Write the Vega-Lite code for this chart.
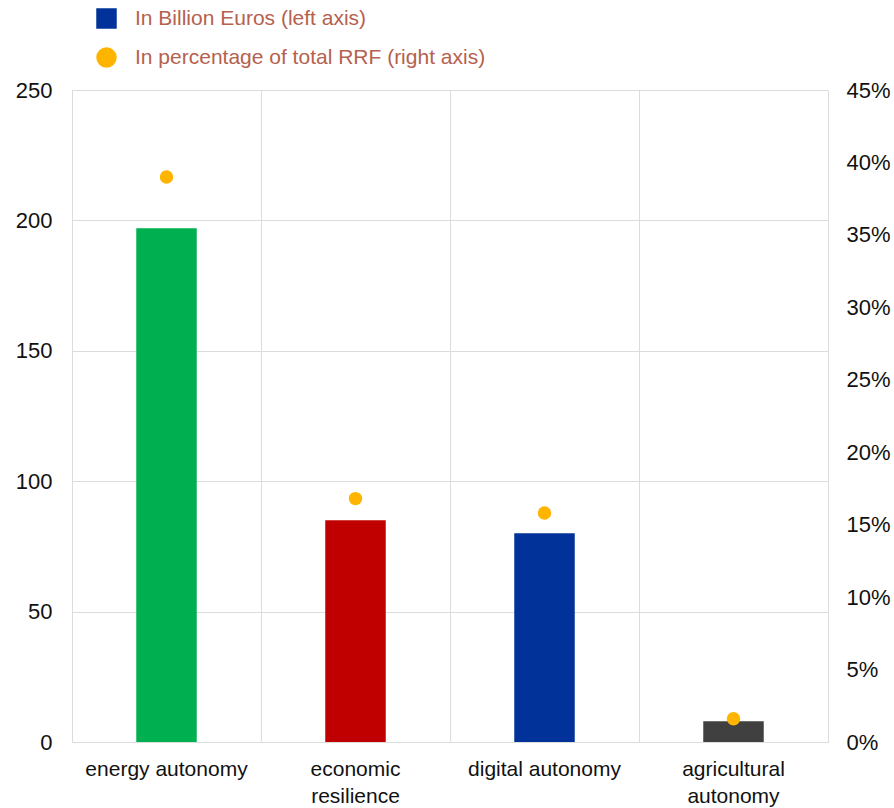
{
  "$schema": "https://vega.github.io/schema/vega-lite/v6.json",
  "width": 756,
  "height": 652,
  "autosize": "none",
  "padding": {"left": 72, "top": 90, "right": 66, "bottom": 66},
  "background": "#ffffff",
  "config": {
    "font": "Liberation Sans",
    "view": {"stroke": null},
    "axis": {"labelFont": "Liberation Sans", "labelFontSize": 22, "labelColor": "#111111"}
  },
  "data": {
    "values": [
      {"category": "energy autonomy", "billion": 197, "share": 0.39, "series": "In percentage of total RRF (right axis)"},
      {"category": "economic resilience", "billion": 85, "share": 0.168, "series": "In percentage of total RRF (right axis)"},
      {"category": "digital autonomy", "billion": 80, "share": 0.158, "series": "In percentage of total RRF (right axis)"},
      {"category": "agricultural autonomy", "billion": 8, "share": 0.016, "series": "In percentage of total RRF (right axis)"}
    ]
  },
  "layer": [
    {
      "mark": {"type": "bar", "width": {"band": 0.32}},
      "encoding": {
        "x": {
          "field": "category", "type": "nominal", "sort": null,
          "scale": {"paddingInner": 0, "paddingOuter": 0},
          "axis": {
            "title": null, "labelAngle": 0, "bandPosition": 0, "grid": true, "gridColor": "#dcdcdc",
            "ticks": false, "domain": true, "domainColor": "#dcdcdc", "labelPadding": 16,
            "labelFontSize": 21, "labelLineHeight": 27, "labelBaseline": "top",
            "labelExpr": "length(datum.value) > 17 ? split(datum.value, ' ') : datum.value"
          }
        },
        "y": {
          "field": "billion", "type": "quantitative",
          "scale": {"domain": [0, 250], "nice": false},
          "axis": {
            "title": null, "orient": "left", "values": [0, 50, 100, 150, 200, 250],
            "grid": true, "gridColor": "#dcdcdc", "ticks": false, "domain": true, "domainColor": "#dcdcdc",
            "labelPadding": 20
          }
        },
        "color": {
          "field": "category", "type": "nominal", "sort": null,
          "scale": {
            "domain": ["energy autonomy", "economic resilience", "digital autonomy", "agricultural autonomy"],
            "range": ["#00b050", "#c00000", "#003299", "#404040"]
          },
          "legend": null
        }
      }
    },
    {
      "mark": {"type": "point", "filled": true, "size": 180, "opacity": 1},
      "encoding": {
        "x": {"field": "category", "type": "nominal", "sort": null},
        "y": {
          "field": "share", "type": "quantitative",
          "scale": {"domain": [0, 0.45], "nice": false},
          "axis": {
            "title": null, "orient": "right", "format": ".0%",
            "values": [0, 0.05, 0.1, 0.15, 0.2, 0.25, 0.3, 0.35, 0.4, 0.45],
            "grid": false, "ticks": false, "domain": true, "domainColor": "#dcdcdc", "labelPadding": 18
          }
        },
        "color": {
          "field": "series", "type": "nominal",
          "scale": {"domain": ["In Billion Euros (left axis)", "In percentage of total RRF (right axis)"], "range": ["#003299", "#ffb400"]},
          "legend": {
            "title": null, "orient": "none", "legendX": 24, "legendY": -82, "padding": 0,
            "symbolSize": 420, "labelFontSize": 21, "labelFont": "Liberation Sans", "labelColor": "#b5614e",
            "labelLimit": 0, "rowPadding": 17, "labelOffset": 18, "symbolStrokeWidth": 0
          }
        },
        "shape": {
          "field": "series", "type": "nominal",
          "scale": {"domain": ["In Billion Euros (left axis)", "In percentage of total RRF (right axis)"], "range": ["square", "circle"]},
          "legend": {
            "title": null, "orient": "none", "legendX": 24, "legendY": -82, "padding": 0,
            "symbolSize": 420, "labelFontSize": 21, "labelFont": "Liberation Sans", "labelColor": "#b5614e",
            "labelLimit": 0, "rowPadding": 17, "labelOffset": 18, "symbolStrokeWidth": 0
          }
        }
      }
    }
  ],
  "resolve": {"scale": {"y": "independent", "color": "independent", "shape": "independent"}}
}
